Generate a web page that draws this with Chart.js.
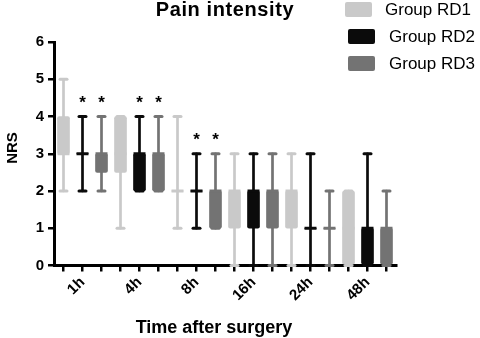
<!DOCTYPE html>
<html>
<head>
<meta charset="utf-8">
<script src="https://cdn.jsdelivr.net/npm/chart.js@4/dist/chart.umd.min.js"></script>
<style>
html, body { margin: 0; padding: 0; background: #fff; }
</style>
</head>
<body>
<canvas id="myChart" width="480" height="338"></canvas>
<script>
var times = ['1h', '4h', '8h', '16h', '24h', '48h'];
var groups = ['Group RD1', 'Group RD2', 'Group RD3'];
var colors = ['#c9c9c9', '#0b0b0b', '#737373'];
// [min, q1, median, q3, max] for each time point
var rd1 = [[2, 3, 3, 4, 5], [1, 2.5, 3, 4, 4], [1, 2, 2, 2, 4], [0, 1, 2, 2, 3], [0, 1, 2, 2, 3], [0, 0, 1, 2, 2]];
var rd2 = [[2, 3, 3, 3, 4], [2, 2, 3, 3, 4], [1, 2, 2, 2, 3], [0, 1, 2, 2, 3], [0, 1, 1, 1, 3], [0, 0, 1, 1, 3]];
var rd3 = [[2, 2.5, 3, 3, 4], [2, 2, 3, 3, 4], [1, 1, 2, 2, 3], [0, 1, 2, 2, 3], [0, 1, 1, 1, 2], [0, 0, 1, 1, 2]];
// asterisks above RD2 / RD3
var sig2 = [1, 1, 1, 0, 0, 0];
var sig3 = [1, 1, 1, 0, 0, 0];
var yMin = 0;
var yMax = 6;

var stats = [rd1, rd2, rd3];
var sigs = [null, sig2, sig3];
var FONT = '"Liberation Sans", Arial, sans-serif';

// one slot per box, time label sits under the middle box
var slots = [];
times.forEach(function (t) {
    slots.push('', t, '');
});

var datasets = groups.map(function (g, gi) {
    var data = [];
    times.forEach(function (t, ti) {
        for (var k = 0; k < 3; k++) {
            data.push(k === gi ? [stats[gi][ti][1], stats[gi][ti][3]] : null);
        }
    });
    return {
        label: g,
        data: data,
        backgroundColor: colors[gi],
        borderWidth: 0,
        borderRadius: 2,
        borderSkipped: false,
        barThickness: 12,
        grouped: false
    };
});

function seg(ctx, x1, y1, x2, y2) {
    ctx.beginPath();
    ctx.moveTo(x1, y1);
    ctx.lineTo(x2, y2);
    ctx.stroke();
}

var boxPlugin = {
    id: 'boxes',
    beforeDatasetsDraw: function (chart) {
        var ctx = chart.ctx, xs = chart.scales.x, ys = chart.scales.y;
        ctx.save();
        ctx.lineCap = 'round';
        stats.forEach(function (s, gi) {
            ctx.strokeStyle = colors[gi];
            s.forEach(function (v, ti) {
                var x = xs.getPixelForValue(ti * 3 + gi);
                var y0 = ys.getPixelForValue(v[0]), y4 = ys.getPixelForValue(v[4]);
                ctx.lineWidth = 2.7;
                seg(ctx, x, y0, x, y4);
                ctx.lineWidth = 3;
                seg(ctx, x - 3.5, y0, x + 3.5, y0);
                seg(ctx, x - 3.5, y4, x + 3.5, y4);
            });
        });
        ctx.restore();
    },
    afterDatasetsDraw: function (chart) {
        var ctx = chart.ctx, xs = chart.scales.x, ys = chart.scales.y;
        ctx.save();
        stats.forEach(function (s, gi) {
            s.forEach(function (v, ti) {
                var x = xs.getPixelForValue(ti * 3 + gi);
                var ym = ys.getPixelForValue(v[2]);
                ctx.strokeStyle = colors[gi];
                ctx.lineWidth = 3;
                ctx.lineCap = 'butt';
                seg(ctx, x - 6, ym, x + 6, ym);
                if (sigs[gi] && sigs[gi][ti]) {
                    ctx.fillStyle = '#000';
                    ctx.font = 'bold 17px ' + FONT;
                    ctx.textAlign = 'center';
                    ctx.textBaseline = 'alphabetic';
                    ctx.fillText('*', x, ys.getPixelForValue(v[4]) - 9);
                }
            });
        });
        ctx.restore();
    },
    afterDraw: function (chart) {
        var ctx = chart.ctx;
        ctx.save();
        ctx.fillStyle = '#000';
        // title
        ctx.font = 'bold 20px ' + FONT;
        ctx.letterSpacing = '0.6px';
        ctx.textAlign = 'center';
        ctx.textBaseline = 'alphabetic';
        ctx.fillText('Pain intensity', 225, 16);
        ctx.letterSpacing = '0px';
        // x title
        ctx.font = 'bold 18px ' + FONT;
        ctx.fillText('Time after surgery', 214, 333);
        // y title
        ctx.save();
        ctx.translate(17, 148);
        ctx.rotate(-Math.PI / 2);
        ctx.font = 'bold 15px ' + FONT;
        ctx.fillText('NRS', 0, 0);
        ctx.restore();
        // legend
        var sw = [[345, 2], [348, 29], [348, 56]];
        var tx = [385, 389, 389];
        ctx.font = '17px ' + FONT;
        ctx.textAlign = 'left';
        ctx.textBaseline = 'middle';
        groups.forEach(function (g, gi) {
            ctx.fillStyle = colors[gi];
            ctx.beginPath();
            ctx.roundRect(sw[gi][0], sw[gi][1], 27, 15, 2);
            ctx.fill();
            ctx.fillStyle = '#000';
            ctx.fillText(g, tx[gi], sw[gi][1] + 8);
        });
        ctx.restore();
    }
};

new Chart(document.getElementById('myChart'), {
    type: 'bar',
    data: {
        labels: slots,
        datasets: datasets
    },
    options: {
        responsive: false,
        animation: false,
        layout: { padding: { top: 42, right: 84, left: 0, bottom: 0 } },
        plugins: {
            legend: { display: false },
            title: { display: false },
            tooltip: { enabled: false }
        },
        scales: {
            x: {
                offset: true,
                border: { color: '#000', width: 3 },
                grid: { display: true, drawOnChartArea: false, offset: false, color: '#000', lineWidth: 2.5, tickLength: 6 },
                ticks: {
                    autoSkip: false,
                    minRotation: 45,
                    maxRotation: 45,
                    color: '#000',
                    padding: 2,
                    font: { family: FONT, size: 15, weight: 'bold' }
                },
                afterFit: function (scale) { scale.height = 72.5; }
            },
            y: {
                min: yMin,
                max: yMax,
                border: { color: '#000', width: 3 },
                grid: { drawOnChartArea: false, color: '#000', lineWidth: 2.5, tickLength: 6 },
                ticks: {
                    stepSize: 1,
                    color: '#000',
                    padding: 4,
                    font: { family: FONT, size: 15, weight: 'bold' }
                },
                afterFit: function (scale) { scale.width = 54; }
            }
        }
    },
    plugins: [boxPlugin]
});
</script>
</body>
</html>
